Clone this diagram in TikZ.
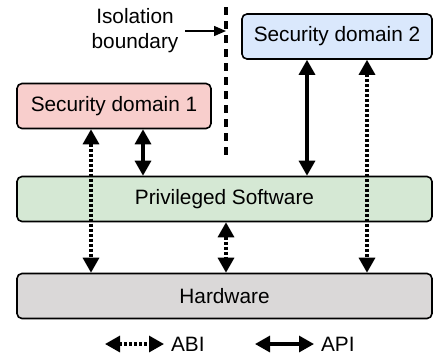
\documentclass[tikz,border=0pt]{standalone}
\usepackage{fontspec}
\setmainfont{Liberation Sans}
\usetikzlibrary{arrows.meta}
\definecolor{sdred}{HTML}{F8CECC}
\definecolor{sdblue}{HTML}{DAE8FC}
\definecolor{privgreen}{HTML}{D5E8D4}
\definecolor{hwgrey}{HTML}{DAD8D8}
\begin{document}
\begin{tikzpicture}[x=0.5pt,y=-0.5pt,
    font=\fontsize{10.4}{12.5}\selectfont,
    box/.style={draw,rounded corners=2.5pt,line width=0.8pt,inner sep=0pt,minimum height=22.5pt},
    apiarrow/.style={{Triangle[width=8pt,length=7.5pt]}-{Triangle[width=8pt,length=7.5pt]},line width=1.6pt},
    abiarrow/.style={apiarrow,dash pattern=on 1.5pt off 1pt},
    bndline/.style={line width=1.6pt,dash pattern=on 4pt off 3pt}]
  \useasboundingbox (0,0) rectangle (433,355);
  % boxes
  \node[box,fill=sdred,minimum width=97pt] (sd1) at (114,106) {Security domain 1};
  \node[box,fill=sdblue,minimum width=95pt] (sd2) at (337,36.5) {Security domain 2};
  \node[box,fill=privgreen,minimum width=207.5pt] (priv) at (224.5,199) {Privileged Software};
  \node[box,fill=hwgrey,minimum width=207.5pt] (hw) at (224.5,296) {Hardware};
  % isolation boundary
  \coordinate (bndtop) at (226,7);
  \coordinate (bndbot) at (226,157);
  \draw[bndline] (bndtop) -- (bndbot);
  \node[align=center] (iso) at (135,31) {Isolation\\boundary};
  \draw[-{Triangle[width=5pt,length=6pt]},line width=0.7pt] (iso.east) -- (iso.east -| bndtop);
  % interfaces
  \draw[abiarrow] (sd1.south -| 91,0) -- (hw.north -| 91,0);
  \draw[apiarrow] (sd1.south -| 143,0) -- (priv.north -| 143,0);
  \draw[apiarrow] (sd2.south -| 307,0) -- (priv.north -| 307,0);
  \draw[abiarrow] (sd2.south -| 367,0) -- (hw.north -| 367,0);
  \draw[abiarrow] (priv.south -| 226,0) -- (hw.north -| 226,0);
  % legend
  \node[anchor=west] (abilbl) at (164,344) {ABI};
  \coordinate (abistart) at (105,344);
  \draw[abiarrow] (abistart) -- (abilbl.west);
  \node[anchor=west] (apilbl) at (314,344) {API};
  \coordinate (apistart) at (255,344);
  \draw[apiarrow] (apistart) -- (apilbl.west);
\end{tikzpicture}
\end{document}
